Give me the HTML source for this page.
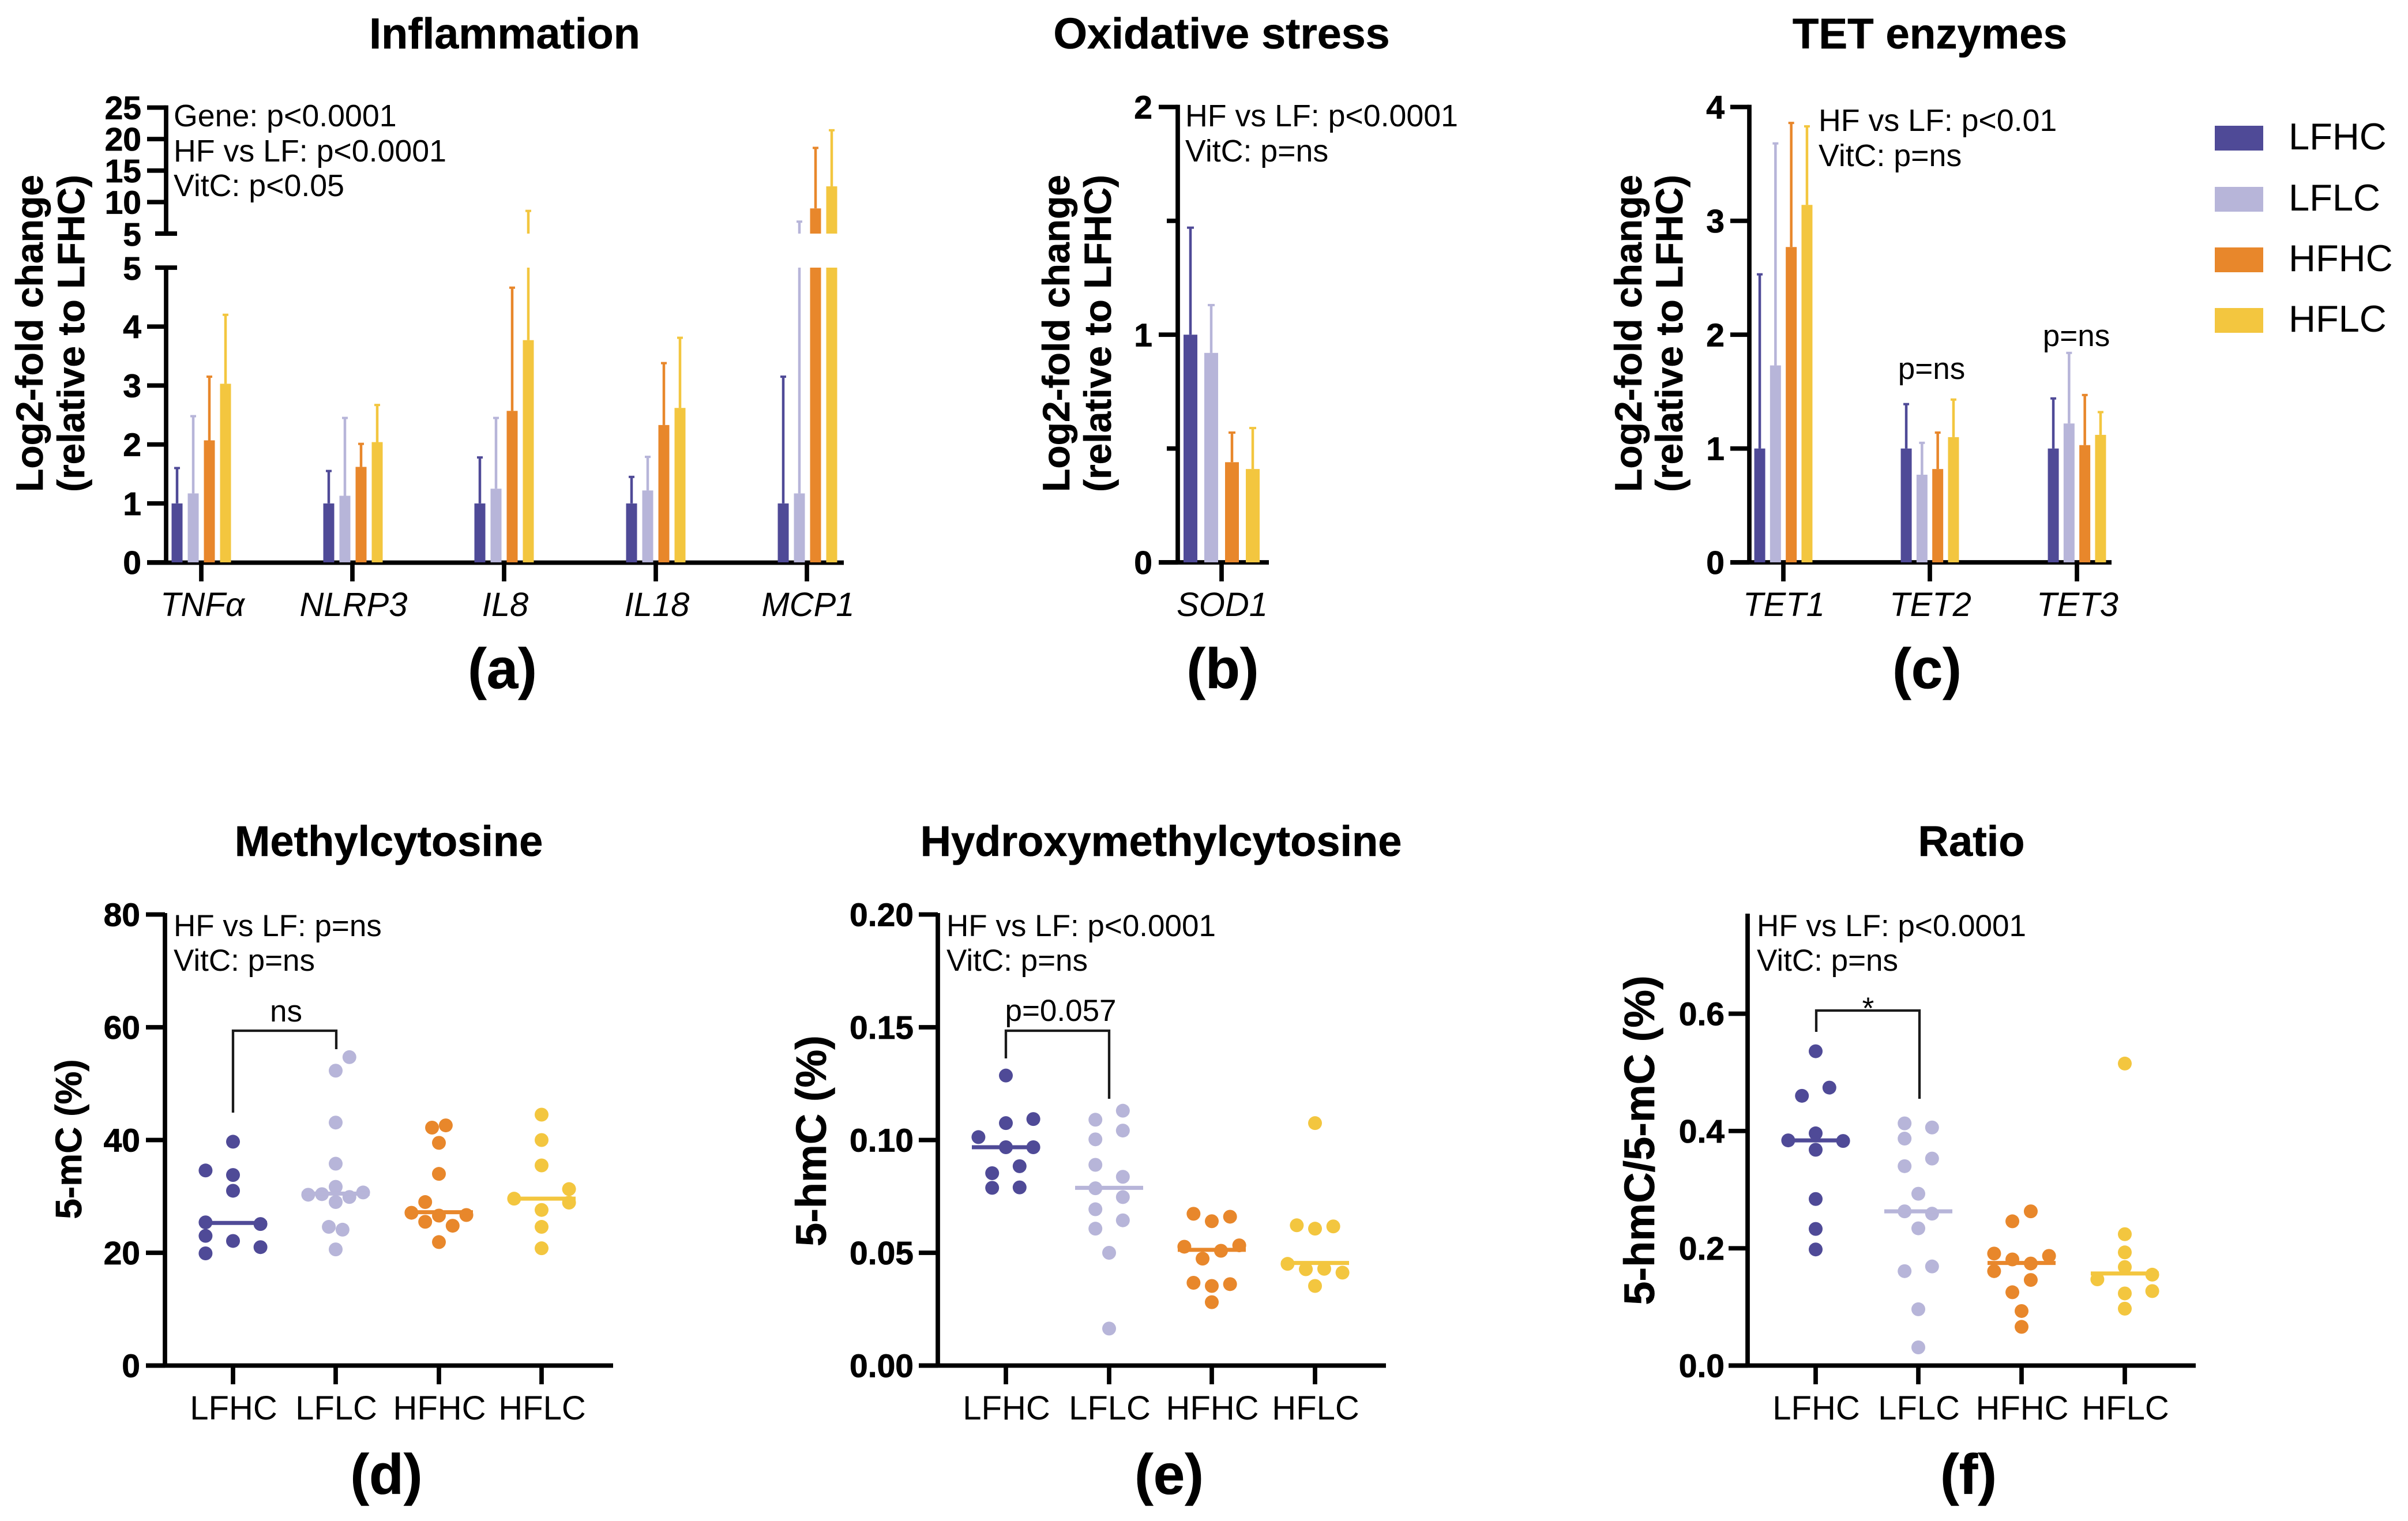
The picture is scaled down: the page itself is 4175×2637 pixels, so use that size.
<!DOCTYPE html>
<html lang="en">
<head>
<meta charset="utf-8">
<title>Inflammation, oxidative stress, TET enzymes and cytosine methylation panels</title>
<style>
html,body{margin:0;padding:0;background:#fff}
svg{display:block}
text{font-family:"Liberation Sans",Arial,sans-serif;fill:#000}
.title{font-size:74px;font-weight:700;text-anchor:middle;stroke:#000;stroke-width:.6px}
.title-top{font-size:75.5px}
.plabel{font-size:98px;font-weight:700;text-anchor:middle;stroke:#000;stroke-width:.6px}
.note{font-size:53px}
.note-top{font-size:53.7px}
.ytitle{font-size:66px;font-weight:700;text-anchor:middle;stroke:#000;stroke-width:.6px}
.ytitle2{font-size:74px;font-weight:700;text-anchor:middle;stroke:#000;stroke-width:.6px}
.tick{font-size:57px;font-weight:700;text-anchor:end;stroke:#000;stroke-width:.8px}
.cat{font-size:58px;font-style:italic;text-anchor:middle}
.grp{font-size:58px;text-anchor:middle}
.legend{font-size:65px}
.mid{text-anchor:middle}
</style>
</head>
<body>
<svg id="figure" xmlns="http://www.w3.org/2000/svg" width="4175" height="2637" viewBox="0 0 4175 2637">
  <rect width="4175" height="2637" fill="#ffffff"/>

  <g id="panel-a">
    <text class="title title-top" x="875" y="84">Inflammation</text>
    <text class="ytitle" transform="translate(74,578) rotate(-90)">Log2-fold change</text>
    <text class="ytitle" transform="translate(146,578) rotate(-90)">(relative to LFHC)</text>
    <text class="note note-top" x="301" y="219">Gene: p&lt;0.0001</text>
    <text class="note note-top" x="301" y="280">HF vs LF: p&lt;0.0001</text>
    <text class="note note-top" x="301" y="340">VitC: p&lt;0.05</text>
    <text class="plabel" x="871" y="1193">(a)</text>
  </g>

  <g id="panel-b">
    <text class="title title-top" x="2118" y="84">Oxidative stress</text>
    <text class="ytitle" transform="translate(1854,578) rotate(-90)">Log2-fold change</text>
    <text class="ytitle" transform="translate(1926,578) rotate(-90)">(relative to LFHC)</text>
    <text class="note note-top" x="2055" y="219">HF vs LF: p&lt;0.0001</text>
    <text class="note note-top" x="2055" y="280">VitC: p=ns</text>
    <text class="plabel" x="2120" y="1193">(b)</text>
  </g>

  <g id="panel-c">
    <text class="title" style="font-size:74.5px" x="3346" y="84">TET enzymes</text>
    <text class="ytitle" transform="translate(2846,578) rotate(-90)">Log2-fold change</text>
    <text class="ytitle" transform="translate(2917,578) rotate(-90)">(relative to LFHC)</text>
    <text class="note note-top" x="3153" y="227">HF vs LF: p&lt;0.01</text>
    <text class="note note-top" x="3153" y="288">VitC: p=ns</text>
    <text class="note mid" x="3349" y="657">p=ns</text>
    <text class="note mid" x="3600" y="600">p=ns</text>
    <text class="plabel" x="3341" y="1193">(c)</text>
  </g>

  <g id="legend">
    <rect x="3840" y="218" width="84" height="43" fill="#4F4A97"/>
    <text class="legend" x="3968" y="259">LFHC</text>
    <rect x="3840" y="324" width="84" height="43" fill="#B7B5D9"/>
    <text class="legend" x="3968" y="365">LFLC</text>
    <rect x="3840" y="429" width="84" height="43" fill="#E8872B"/>
    <text class="legend" x="3968" y="470">HFHC</text>
    <rect x="3840" y="534" width="84" height="43" fill="#F3C63F"/>
    <text class="legend" x="3968" y="575">HFLC</text>
  </g>

  <g id="panel-d">
    <text class="title" x="674" y="1484">Methylcytosine</text>
    <text class="ytitle" style="font-size:64px" transform="translate(141,1975) rotate(-90)">5-mC (%)</text>
    <text class="note" x="301" y="1623">HF vs LF: p=ns</text>
    <text class="note" x="301" y="1683">VitC: p=ns</text>
    <path d="M404 1929V1787H583V1819" fill="none" stroke="#1a1a1a" stroke-width="4.3"/>
    <text class="note mid" x="496" y="1771">ns</text>
    <text class="plabel" x="670" y="2590">(d)</text>
  </g>

  <g id="panel-e">
    <text class="title" x="2013" y="1484">Hydroxymethylcytosine</text>
    <text class="ytitle2" transform="translate(1432,1978) rotate(-90)">5-hmC (%)</text>
    <text class="note" x="1641" y="1623">HF vs LF: p&lt;0.0001</text>
    <text class="note" x="1641" y="1683">VitC: p=ns</text>
    <path d="M1744 1835V1787H1923V1905" fill="none" stroke="#1a1a1a" stroke-width="4.3"/>
    <text class="note mid" x="1839" y="1770">p=0.057</text>
    <text class="plabel" x="2027" y="2590">(e)</text>
  </g>

  <g id="panel-f">
    <text class="title" x="3418" y="1484">Ratio</text>
    <text class="ytitle2" transform="translate(2868,1977) rotate(-90)">5-hmC/5-mC (%)</text>
    <text class="note" x="3046" y="1623">HF vs LF: p&lt;0.0001</text>
    <text class="note" x="3046" y="1683">VitC: p=ns</text>
    <path d="M3149 1789V1752H3328V1905" fill="none" stroke="#1a1a1a" stroke-width="4.3"/>
    <text class="note mid" x="3239" y="1766">*</text>
    <text class="plabel" x="3413" y="2590">(f)</text>
  </g>
</svg>

<script>
const groupNames = ['LFHC', 'LFLC', 'HFHC', 'HFLC'];
const groupColors = ['#4F4A97', '#B7B5D9', '#E8872B', '#F3C63F'];

const inflammationGenes = ['TNFα', 'NLRP3', 'IL8', 'IL18', 'MCP1'];
const inflammationMeans = [
  [1, 1.17, 2.07, 3.03],
  [1, 1.13, 1.62, 2.04],
  [1, 1.25, 2.57, 3.77],
  [1, 1.22, 2.33, 2.62],
  [1, 1.17, 9, 12.5]
];
const inflammationUpper = [
  [1.6, 2.48, 3.15, 4.2],
  [1.55, 2.45, 2.01, 2.67],
  [1.78, 2.45, 4.66, 8.6],
  [1.45, 1.79, 3.38, 3.81],
  [3.15, 6.9, 18.6, 21.4]
];
const inflammationLowerTicks = [0, 1, 2, 3, 4, 5];
const inflammationUpperTicks = [5, 10, 15, 20, 25];

const oxidativeGenes = ['SOD1'];
const oxidativeMeans = [[1, 0.92, 0.44, 0.41]];
const oxidativeUpper = [[1.47, 1.13, 0.57, 0.59]];
const oxidativeMajorTicks = [0, 1, 2];
const oxidativeMinorTicks = [0.5, 1.5];

const tetGenes = ['TET1', 'TET2', 'TET3'];
const tetMeans = [
  [1, 1.73, 2.77, 3.14],
  [1, 0.77, 0.82, 1.1],
  [1, 1.22, 1.03, 1.12]
];
const tetUpper = [
  [2.53, 3.68, 3.86, 3.83],
  [1.39, 1.05, 1.14, 1.43],
  [1.44, 1.84, 1.47, 1.32]
];
const tetTicks = [0, 1, 2, 3, 4];

const methylValues = [
  [39.7, 34.6, 33.8, 31.0, 25.4, 25.1, 23.0, 22.1, 21.0, 19.9],
  [54.7, 52.3, 43.1, 35.8, 31.7, 30.7, 30.4, 30.3, 29.9, 29.0, 24.6, 24.1, 20.6],
  [42.6, 42.2, 39.5, 34.0, 29.0, 27.1, 26.7, 26.6, 25.5, 24.8, 21.9],
  [44.5, 40.0, 35.5, 31.3, 29.6, 28.9, 27.6, 24.6, 20.8]
];
const methylSlots = [
  [0, -2, 0, 0, -2, 2, -2, 0, 2, -2],
  [1, 0, 0, 0, 0, 2, -1, -2, 1, 0, -0.5, 0.5, 0],
  [0.5, -0.5, 0, 0, -1, -2, 2, 0, -1, 1, 0],
  [0, 0, 0, 2, -2, 2, 0, 0, 0]
];
const methylMedians = [25.3, 30.5, 27.2, 29.6];
const methylTicks = [0, 20, 40, 60, 80];

const hydroxyValues = [
  [0.1286, 0.1093, 0.1075, 0.1013, 0.0968, 0.0968, 0.0884, 0.0853, 0.0788, 0.079],
  [0.113, 0.109, 0.1042, 0.1003, 0.089, 0.0837, 0.0786, 0.0747, 0.0693, 0.0644, 0.0607, 0.05, 0.0164],
  [0.0673, 0.066, 0.064, 0.0527, 0.0533, 0.0509, 0.0474, 0.0367, 0.0361, 0.0353, 0.0281],
  [0.1075, 0.0622, 0.0617, 0.0607, 0.0451, 0.0427, 0.0429, 0.0412, 0.0353]
];
const hydroxySlots = [
  [0, 2, 0, -2, 0, 2, 1, -1, -1, 1],
  [1, -1, 1, -1, -1, 1, -1, 1, -1, 1, -1, 0, 0],
  [-1.33, 1.33, 0, -2, 2, 0.67, -0.67, -1.33, 1.33, 0, 0],
  [0, -1.33, 1.33, 0, -2, -0.67, 0.67, 2, 0]
];
const hydroxyMedians = [0.0968, 0.0788, 0.0513, 0.0455];
const hydroxyTicks = ['0.00', '0.05', '0.10', '0.15', '0.20'];

const ratioValues = [
  [0.536, 0.474, 0.46, 0.396, 0.384, 0.383, 0.368, 0.284, 0.233, 0.198],
  [0.413, 0.406, 0.387, 0.353, 0.34, 0.293, 0.263, 0.259, 0.234, 0.169, 0.161, 0.096, 0.031],
  [0.263, 0.246, 0.191, 0.187, 0.181, 0.174, 0.161, 0.146, 0.125, 0.093, 0.066],
  [0.515, 0.224, 0.193, 0.168, 0.155, 0.147, 0.127, 0.123, 0.097]
];
const ratioSlots = [
  [0, 1, -1, 0, -2, 2, 0, 0, 0, 0],
  [-1, 1, -1, 1, -1, 0, -1, 1, 0, 1, -1, 0, 0],
  [0.67, -0.67, -2, 2, -0.67, 0.67, -2, 0.67, -0.67, 0, 0],
  [0, 0, 0, 0, 2, -2, 2, 0, 0]
];
const ratioMedians = [0.384, 0.263, 0.175, 0.157];
const ratioTicks = ['0.0', '0.2', '0.4', '0.6'];

const SVG_NS = 'http://www.w3.org/2000/svg';
const AXIS_W = 7.7;

function make(parent, tag, attrs) {
  const node = document.createElementNS(SVG_NS, tag);
  for (const k in attrs) node.setAttribute(k, attrs[k]);
  parent.appendChild(node);
  return node;
}
function drawLine(parent, x1, y1, x2, y2, color, width, name) {
  const node = make(parent, 'line', { x1: x1, y1: y1, x2: x2, y2: y2, stroke: color, 'stroke-width': width });
  
  
  return node;
}
function drawRect(parent, x, y, w, h, color, name) {
  const node = make(parent, 'rect', { x: x, y: y, width: w, height: h, fill: color });
  
  
  return node;
}
function drawText(parent, x, y, cls, content, name) {
  const node = make(parent, 'text', { x: x, y: y, class: cls });
  node.textContent = content;
  
  
  return node;
}
function drawYTick(parent, axisX, tickLeft, labelRight, y, label, panel) {
  drawLine(parent, tickLeft, y, axisX, y, '#000', AXIS_W, `${panel}-y-tick-${label}`);
  drawText(parent, labelRight, y + 20, 'tick', label, `${panel}-y-tick-label-${label}`);
}

/* Panel (a): broken y axis */
const panelA = document.getElementById('panel-a');
const aLow = v => 975 - v * (975 - 464) / 5;
const aHigh = v => 405 - (v - 5) * (405 - 186.5) / 20;
const aX = (gene, group) => [349, 612, 874, 1137, 1400][gene] + (group - 1.5) * 28;

drawLine(panelA, 288, 186.5 - AXIS_W / 2, 288, 405, '#000', AXIS_W, 'inflammation-y-axis-upper');
drawLine(panelA, 288, 464, 288, 975, '#000', AXIS_W, 'inflammation-y-axis-lower');
drawLine(panelA, 255, 975.5, 1463, 975.5, '#000', AXIS_W, 'inflammation-x-axis');
inflammationUpperTicks.forEach(v => {
  const y = aHigh(v);
  if (v === 5) {
    drawLine(panelA, 269, y, 307, y, '#000', AXIS_W, 'inflammation-break-tick-upper');
    drawText(panelA, 245, y + 21, 'tick', String(v), 'inflammation-y-tick-label-upper-5');
  } else {
    drawYTick(panelA, 288, 255, 245, y, String(v), 'inflammation');
  }
});
inflammationLowerTicks.forEach(v => {
  const y = aLow(v);
  if (v === 5) {
    drawLine(panelA, 269, y, 307, y, '#000', AXIS_W, 'inflammation-break-tick-lower');
    drawText(panelA, 245, y + 21, 'tick', String(v), 'inflammation-y-tick-label-lower-5');
  } else {
    drawYTick(panelA, 288, 255, 245, y, String(v), 'inflammation');
  }
});
inflammationGenes.forEach((gene, g) => {
  const cx = [349, 611, 874, 1137, 1399][g];
  drawLine(panelA, cx, 975, cx, 1008, '#000', AXIS_W, `inflammation-x-tick-${gene}`);
  drawText(panelA, cx + 2, 1068, 'cat', gene, `inflammation-x-label-${gene}`);
  groupNames.forEach((grp, s) => {
    const x = aX(g, s), m = inflammationMeans[g][s], top = inflammationUpper[g][s], col = groupColors[s];
    const label = `${gene}-${grp}`;
    if (m <= 5) {
      drawRect(panelA, x - 9.5, aLow(m), 19, 975 - aLow(m), col, `bar-${label}`);
    } else {
      drawRect(panelA, x - 9.5, aLow(5), 19, 975 - aLow(5), col, `bar-${label}-lower`);
      drawRect(panelA, x - 9.5, aHigh(m), 19, aHigh(5) - aHigh(m), col, `bar-${label}-upper`);
    }
    if (top <= 5) {
      drawLine(panelA, x, aLow(m), x, aLow(top), col, 4.5, `error-bar-${label}`);
      drawLine(panelA, x - 5, aLow(top), x + 5, aLow(top), col, 4, `error-cap-${label}`);
    } else {
      if (m < 5) drawLine(panelA, x, aLow(m), x, aLow(5), col, 4.5, `error-bar-${label}-lower`);
      drawLine(panelA, x, aHigh(Math.max(m, 5)), x, aHigh(top), col, 4.5, `error-bar-${label}-upper`);
      drawLine(panelA, x - 5, aHigh(top), x + 5, aHigh(top), col, 4, `error-cap-${label}`);
    }
  });
});

/* Generic bar panel for (b), (c) */
function barPanel(cfg) {
  const root = document.getElementById(cfg.id);
  const y = v => 975 - v * (975 - 185.5) / cfg.maxV;
  drawLine(root, cfg.axisX, 185.5 - AXIS_W / 2, cfg.axisX, 975, '#000', AXIS_W, `${cfg.prefix}-y-axis`);
  drawLine(root, cfg.axisX - 33, 975, cfg.xEnd, 975, '#000', AXIS_W, `${cfg.prefix}-x-axis`);
  cfg.ticks.forEach(v => drawYTick(root, cfg.axisX, cfg.axisX - 33, cfg.labelRight, y(v), String(v), cfg.prefix));
  cfg.minor.forEach(v => drawLine(root, cfg.axisX - 19, y(v), cfg.axisX, y(v), '#000', AXIS_W, `${cfg.prefix}-y-minor-tick-${v}`));
  cfg.genes.forEach((gene, g) => {
    const cx = cfg.centers[g];
    drawLine(root, cx, 975, cx, 1008, '#000', AXIS_W, `${cfg.prefix}-x-tick-${gene}`);
    drawText(root, cx + 1, 1068, 'cat', gene, `${cfg.prefix}-x-label-${gene}`);
    groupNames.forEach((grp, s) => {
      const x = cx + (s - 1.5) * cfg.step, col = groupColors[s];
      const m = cfg.means[g][s], top = cfg.upper[g][s];
      const label = `${gene}-${grp}`;
      drawRect(root, x - cfg.barW / 2, y(m), cfg.barW, 975 - y(m), col, `bar-${label}`);
      drawLine(root, x, y(m), x, y(top), col, 4.5, `error-bar-${label}`);
      drawLine(root, x - cfg.capW / 2, y(top), x + cfg.capW / 2, y(top), col, 4, `error-cap-${label}`);
    });
  });
}
barPanel({
  id: 'panel-b', prefix: 'oxidative', axisX: 2042, xEnd: 2200, labelRight: 1998, maxV: 2,
  ticks: oxidativeMajorTicks, minor: oxidativeMinorTicks, genes: oxidativeGenes, centers: [2118],
  means: oxidativeMeans, upper: oxidativeUpper, step: 36, barW: 24, capW: 12
});
barPanel({
  id: 'panel-c', prefix: 'tet', axisX: 3033, xEnd: 3661, labelRight: 2990, maxV: 4,
  ticks: tetTicks, minor: [], genes: tetGenes, centers: [3092, 3346, 3601],
  means: tetMeans, upper: tetUpper, step: 27.3, barW: 19, capW: 10
});

/* Generic swarm panel for (d), (e), (f) */
function swarmPanel(cfg) {
  const root = document.getElementById(cfg.id);
  const y = v => 2367.5 - v * cfg.pxPerUnit;
  drawLine(root, cfg.axisX, cfg.axisTop, cfg.axisX, 2368, '#000', AXIS_W, `${cfg.prefix}-y-axis`);
  drawLine(root, cfg.axisX - 33, 2367.5, cfg.xEnd, 2367.5, '#000', AXIS_W, `${cfg.prefix}-x-axis`);
  cfg.ticks.forEach(t => {
    drawYTick(root, cfg.axisX, cfg.axisX - 33, cfg.labelRight, y(Number(t)), String(t), cfg.prefix);
  });
  groupNames.forEach((grp, s) => {
    const cx = cfg.centers[s], col = groupColors[s];
    drawLine(root, cx, 2368, cx, 2400, '#000', AXIS_W, `${cfg.prefix}-x-tick-${grp}`);
    drawText(root, cx + 1, 2461, 'grp', grp, `${cfg.prefix}-x-label-${grp}`);
    cfg.values[s].forEach((v, i) => {
      const dot = make(root, 'circle', { cx: cx + cfg.slots[s][i] * 23.8, cy: y(v), r: 12, fill: col });
      
      
    });
    drawLine(root, cx - 59, y(cfg.medians[s]), cx + 59, y(cfg.medians[s]), col, 7, `${cfg.prefix}-median-${grp}`);
  });
}
swarmPanel({
  id: 'panel-d', prefix: 'methylcytosine', axisX: 286, xEnd: 1063, labelRight: 243, axisTop: 1583,
  pxPerUnit: 782 / 80, ticks: methylTicks, centers: [404, 582, 761, 939],
  values: methylValues, slots: methylSlots, medians: methylMedians
});
swarmPanel({
  id: 'panel-e', prefix: 'hydroxymethylcytosine', axisX: 1626, xEnd: 2403, labelRight: 1584, axisTop: 1583,
  pxPerUnit: 782 / 0.2, ticks: hydroxyTicks, centers: [1744, 1923, 2101, 2280],
  values: hydroxyValues, slots: hydroxySlots, medians: hydroxyMedians
});
swarmPanel({
  id: 'panel-f', prefix: 'ratio', axisX: 3030, xEnd: 3807, labelRight: 2990, axisTop: 1584,
  pxPerUnit: 610 / 0.6, ticks: ratioTicks, centers: [3148, 3326, 3505, 3684],
  values: ratioValues, slots: ratioSlots, medians: ratioMedians
});
</script>
</body>
</html>
